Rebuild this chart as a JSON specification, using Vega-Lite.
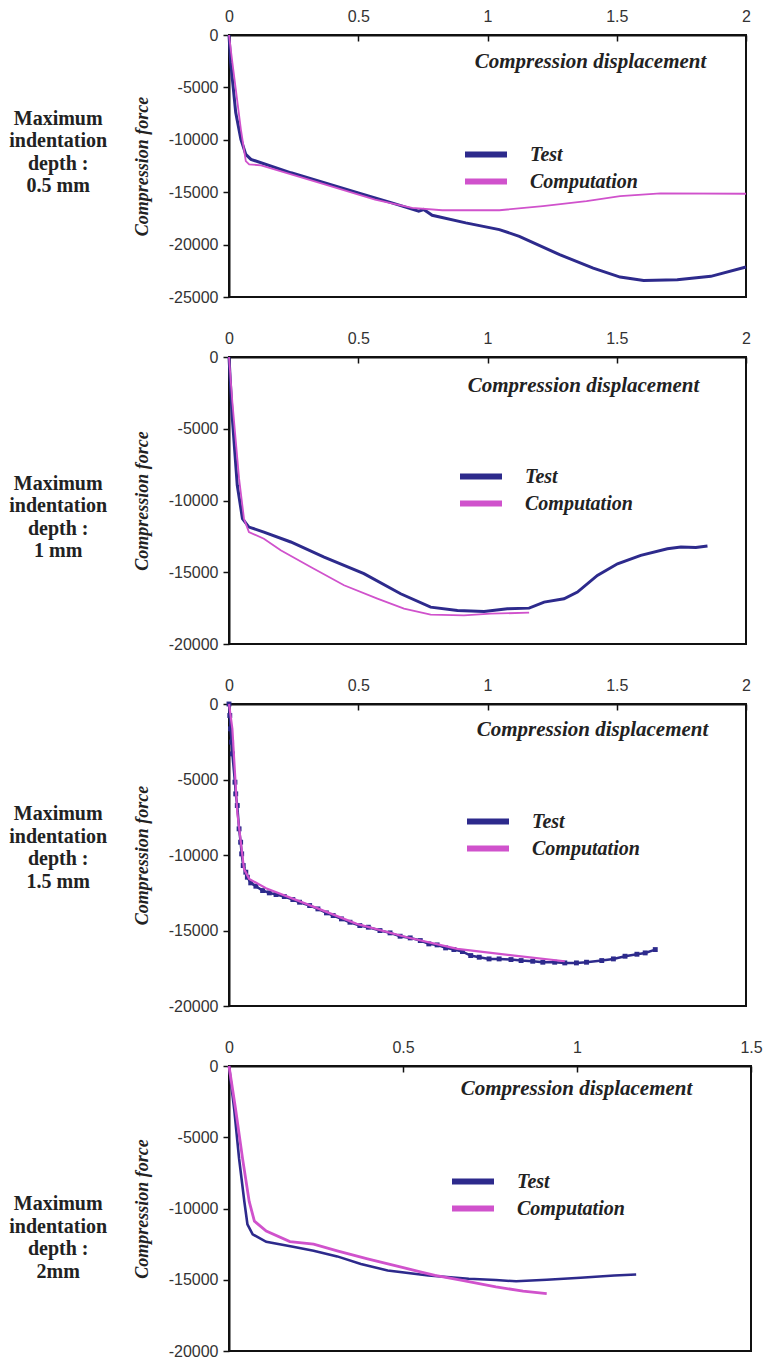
{
  "$schema": "https://vega.github.io/schema/vega-lite/v6.json",
  "background": "white",
  "padding": {"left": 8, "top": 7, "right": 0, "bottom": 0},
  "spacing": 60,
  "bounds": "flush",
  "datasets": {
    "p1": [
      {"s":"Test","x":0,"y":0},{"s":"Test","x":0.0066,"y":-2620},{"s":"Test","x":0.026,"y":-7405},{"s":"Test","x":0.046,"y":-9955},{"s":"Test","x":0.065,"y":-11390},{"s":"Test","x":0.085,"y":-11870},{"s":"Test","x":0.24,"y":-13150},{"s":"Test","x":0.5,"y":-15060},{"s":"Test","x":0.63,"y":-16020},{"s":"Test","x":0.734,"y":-16810},{"s":"Test","x":0.753,"y":-16650},{"s":"Test","x":0.786,"y":-17200},{"s":"Test","x":0.916,"y":-17930},{"s":"Test","x":1.046,"y":-18570},{"s":"Test","x":1.123,"y":-19210},{"s":"Test","x":1.279,"y":-20960},{"s":"Test","x":1.409,"y":-22240},{"s":"Test","x":1.513,"y":-23100},{"s":"Test","x":1.604,"y":-23420},{"s":"Test","x":1.734,"y":-23350},{"s":"Test","x":1.864,"y":-23030},{"s":"Test","x":2.0,"y":-22140},
      {"s":"Computation","x":0,"y":0},{"s":"Computation","x":0.013,"y":-2620},{"s":"Computation","x":0.046,"y":-9000},{"s":"Computation","x":0.065,"y":-12030},{"s":"Computation","x":0.078,"y":-12340},{"s":"Computation","x":0.124,"y":-12440},{"s":"Computation","x":0.37,"y":-14260},{"s":"Computation","x":0.565,"y":-15700},{"s":"Computation","x":0.708,"y":-16500},{"s":"Computation","x":0.825,"y":-16720},{"s":"Computation","x":1.046,"y":-16720},{"s":"Computation","x":1.214,"y":-16330},{"s":"Computation","x":1.383,"y":-15860},{"s":"Computation","x":1.513,"y":-15380},{"s":"Computation","x":1.669,"y":-15120},{"s":"Computation","x":2.0,"y":-15150}
    ],
    "p2": [
      {"s":"Test","x":0,"y":0},{"s":"Test","x":0.013,"y":-4300},{"s":"Test","x":0.032,"y":-8940},{"s":"Test","x":0.052,"y":-11270},{"s":"Test","x":0.077,"y":-11850},{"s":"Test","x":0.135,"y":-12200},{"s":"Test","x":0.239,"y":-12890},{"s":"Test","x":0.368,"y":-13940},{"s":"Test","x":0.522,"y":-15100},{"s":"Test","x":0.664,"y":-16500},{"s":"Test","x":0.78,"y":-17430},{"s":"Test","x":0.884,"y":-17660},{"s":"Test","x":0.987,"y":-17730},{"s":"Test","x":1.077,"y":-17540},{"s":"Test","x":1.161,"y":-17500},{"s":"Test","x":1.219,"y":-17080},{"s":"Test","x":1.296,"y":-16850},{"s":"Test","x":1.348,"y":-16380},{"s":"Test","x":1.425,"y":-15220},{"s":"Test","x":1.503,"y":-14410},{"s":"Test","x":1.593,"y":-13820},{"s":"Test","x":1.696,"y":-13360},{"s":"Test","x":1.748,"y":-13240},{"s":"Test","x":1.806,"y":-13280},{"s":"Test","x":1.851,"y":-13170},
      {"s":"Computation","x":0,"y":0},{"s":"Computation","x":0.013,"y":-3140},{"s":"Computation","x":0.039,"y":-8480},{"s":"Computation","x":0.058,"y":-11270},{"s":"Computation","x":0.077,"y":-12200},{"s":"Computation","x":0.135,"y":-12660},{"s":"Computation","x":0.2,"y":-13470},{"s":"Computation","x":0.316,"y":-14640},{"s":"Computation","x":0.445,"y":-15910},{"s":"Computation","x":0.574,"y":-16840},{"s":"Computation","x":0.677,"y":-17540},{"s":"Computation","x":0.78,"y":-17960},{"s":"Computation","x":0.909,"y":-18010},{"s":"Computation","x":1.013,"y":-17890},{"s":"Computation","x":1.161,"y":-17820}
    ],
    "p3": [
      {"s":"Test","x":0,"y":0},{"s":"Test","x":0.003,"y":-762},{"s":"Test","x":0.006,"y":-1645},{"s":"Test","x":0.01,"y":-2528},{"s":"Test","x":0.013,"y":-3301},{"s":"Test","x":0.023,"y":-5178},{"s":"Test","x":0.026,"y":-5951},{"s":"Test","x":0.032,"y":-6723},{"s":"Test","x":0.039,"y":-8269},{"s":"Test","x":0.045,"y":-9152},{"s":"Test","x":0.049,"y":-9925},{"s":"Test","x":0.055,"y":-10698},{"s":"Test","x":0.065,"y":-11140},{"s":"Test","x":0.071,"y":-11471},{"s":"Test","x":0.084,"y":-11846},{"s":"Test","x":0.104,"y":-12067},{"s":"Test","x":0.13,"y":-12354},{"s":"Test","x":0.156,"y":-12509},{"s":"Test","x":0.182,"y":-12619},{"s":"Test","x":0.214,"y":-12752},{"s":"Test","x":0.247,"y":-12951},{"s":"Test","x":0.273,"y":-13127},{"s":"Test","x":0.312,"y":-13348},{"s":"Test","x":0.344,"y":-13569},{"s":"Test","x":0.377,"y":-13834},{"s":"Test","x":0.403,"y":-14010},{"s":"Test","x":0.435,"y":-14231},{"s":"Test","x":0.468,"y":-14452},{"s":"Test","x":0.506,"y":-14673},{"s":"Test","x":0.539,"y":-14783},{"s":"Test","x":0.584,"y":-15004},{"s":"Test","x":0.623,"y":-15158},{"s":"Test","x":0.662,"y":-15379},{"s":"Test","x":0.701,"y":-15490},{"s":"Test","x":0.74,"y":-15666},{"s":"Test","x":0.773,"y":-15887},{"s":"Test","x":0.805,"y":-15953},{"s":"Test","x":0.838,"y":-16152},{"s":"Test","x":0.87,"y":-16262},{"s":"Test","x":0.903,"y":-16395},{"s":"Test","x":0.935,"y":-16660},{"s":"Test","x":0.968,"y":-16770},{"s":"Test","x":1.006,"y":-16881},{"s":"Test","x":1.045,"y":-16881},{"s":"Test","x":1.091,"y":-16925},{"s":"Test","x":1.13,"y":-16991},{"s":"Test","x":1.175,"y":-17035},{"s":"Test","x":1.214,"y":-17101},{"s":"Test","x":1.26,"y":-17101},{"s":"Test","x":1.299,"y":-17146},{"s":"Test","x":1.344,"y":-17146},{"s":"Test","x":1.383,"y":-17101},{"s":"Test","x":1.442,"y":-16991},{"s":"Test","x":1.487,"y":-16881},{"s":"Test","x":1.532,"y":-16704},{"s":"Test","x":1.578,"y":-16572},{"s":"Test","x":1.61,"y":-16484},{"s":"Test","x":1.649,"y":-16263},
      {"s":"Computation","x":0,"y":0},{"s":"Computation","x":0.013,"y":-1645},{"s":"Computation","x":0.032,"y":-7166},{"s":"Computation","x":0.058,"y":-10919},{"s":"Computation","x":0.078,"y":-11581},{"s":"Computation","x":0.143,"y":-12200},{"s":"Computation","x":0.299,"y":-13238},{"s":"Computation","x":0.494,"y":-14562},{"s":"Computation","x":0.688,"y":-15445},{"s":"Computation","x":0.883,"y":-16218},{"s":"Computation","x":1.104,"y":-16660},{"s":"Computation","x":1.299,"y":-17035}
    ],
    "p4": [
      {"s":"Test","x":0,"y":0},{"s":"Test","x":0.015,"y":-3040},{"s":"Test","x":0.029,"y":-6500},{"s":"Test","x":0.044,"y":-9500},{"s":"Test","x":0.053,"y":-11120},{"s":"Test","x":0.068,"y":-11810},{"s":"Test","x":0.107,"y":-12340},{"s":"Test","x":0.184,"y":-12690},{"s":"Test","x":0.243,"y":-12960},{"s":"Test","x":0.311,"y":-13360},{"s":"Test","x":0.379,"y":-13890},{"s":"Test","x":0.456,"y":-14350},{"s":"Test","x":0.573,"y":-14700},{"s":"Test","x":0.689,"y":-14930},{"s":"Test","x":0.767,"y":-15020},{"s":"Test","x":0.825,"y":-15110},{"s":"Test","x":0.913,"y":-15000},{"s":"Test","x":1.01,"y":-14860},{"s":"Test","x":1.107,"y":-14700},{"s":"Test","x":1.17,"y":-14630},
      {"s":"Computation","x":0,"y":0},{"s":"Computation","x":0.019,"y":-3040},{"s":"Computation","x":0.039,"y":-6500},{"s":"Computation","x":0.058,"y":-9500},{"s":"Computation","x":0.073,"y":-10890},{"s":"Computation","x":0.107,"y":-11580},{"s":"Computation","x":0.175,"y":-12320},{"s":"Computation","x":0.243,"y":-12500},{"s":"Computation","x":0.311,"y":-12970},{"s":"Computation","x":0.398,"y":-13540},{"s":"Computation","x":0.495,"y":-14120},{"s":"Computation","x":0.592,"y":-14700},{"s":"Computation","x":0.67,"y":-15040},{"s":"Computation","x":0.767,"y":-15500},{"s":"Computation","x":0.845,"y":-15800},{"s":"Computation","x":0.913,"y":-15970}
    ]
  },
  "resolve": {"scale": {"color": "independent"}, "legend": {"color": "independent"}},
  "vconcat": [
    {
      "width": 517, "height": 262,
      "title": {"text": ["Maximum", "indentation", "depth :", "0.5 mm"], "orient": "left", "angle": 0, "align": "center", "baseline": "middle", "offset": -23, "dy": -47.3},
      "data": {"name": "p1"},
      "encoding": {
        "x": {"field": "x", "type": "quantitative", "scale": {"domain": [0, 2], "nice": false}, "axis": {"orient": "top", "values": [0, 0.5, 1, 1.5, 2], "title": "Compression displacement", "titleX": 361, "titleY": 26}},
        "y": {"field": "y", "type": "quantitative", "scale": {"domain": [-25000, 0], "nice": false}, "axis": {"values": [-25000, -20000, -15000, -10000, -5000, 0], "title": "Compression force", "titleX": -87}},
        "color": {"field": "s", "type": "nominal", "scale": {"domain": ["Test", "Computation"], "range": ["#2d2a8c", "#d052cc"]}, "legend": {"orient": "none", "legendX": 233, "legendY": 106}}
      },
      "layer": [
        {"transform": [{"filter": "datum.s === 'Test'"}], "mark": {"type": "line", "strokeWidth": 3}},
        {"transform": [{"filter": "datum.s === 'Computation'"}], "mark": {"type": "line", "strokeWidth": 1.8}}
      ]
    },
    {
      "width": 517, "height": 287,
      "title": {"text": ["Maximum", "indentation", "depth :", "1 mm"], "orient": "left", "angle": 0, "align": "center", "baseline": "middle", "offset": -23, "dy": -16.8},
      "data": {"name": "p2"},
      "encoding": {
        "x": {"field": "x", "type": "quantitative", "scale": {"domain": [0, 2], "nice": false}, "axis": {"orient": "top", "values": [0, 0.5, 1, 1.5, 2], "title": "Compression displacement", "titleX": 354, "titleY": 28}},
        "y": {"field": "y", "type": "quantitative", "scale": {"domain": [-20000, 0], "nice": false}, "axis": {"values": [-20000, -15000, -10000, -5000, 0], "title": "Compression force", "titleX": -87}},
        "color": {"field": "s", "type": "nominal", "scale": {"domain": ["Test", "Computation"], "range": ["#2d2a8c", "#d052cc"]}, "legend": {"orient": "none", "legendX": 228, "legendY": 106}}
      },
      "layer": [
        {"transform": [{"filter": "datum.s === 'Test'"}], "mark": {"type": "line", "strokeWidth": 3}},
        {"transform": [{"filter": "datum.s === 'Computation'"}], "mark": {"type": "line", "strokeWidth": 1.8}}
      ]
    },
    {
      "width": 517, "height": 302,
      "title": {"text": ["Maximum", "indentation", "depth :", "1.5 mm"], "orient": "left", "angle": 0, "align": "center", "baseline": "middle", "offset": -23, "dy": -41},
      "data": {"name": "p3"},
      "encoding": {
        "x": {"field": "x", "type": "quantitative", "scale": {"domain": [0, 2], "nice": false}, "axis": {"orient": "top", "values": [0, 0.5, 1, 1.5, 2], "title": "Compression displacement", "titleX": 363, "titleY": 25}},
        "y": {"field": "y", "type": "quantitative", "scale": {"domain": [-20000, 0], "nice": false}, "axis": {"values": [-20000, -15000, -10000, -5000, 0], "title": "Compression force", "titleX": -87}},
        "color": {"field": "s", "type": "nominal", "scale": {"domain": ["Test", "Computation"], "range": ["#2d2a8c", "#d052cc"]}, "legend": {"orient": "none", "legendX": 235, "legendY": 104}}
      },
      "layer": [
        {"transform": [{"filter": "datum.s === 'Test'"}], "mark": {"type": "line", "strokeWidth": 2.5, "point": {"filled": true, "size": 24, "shape": "square"}}},
        {"transform": [{"filter": "datum.s === 'Computation'"}], "mark": {"type": "line", "strokeWidth": 2.2}}
      ]
    },
    {
      "width": 522, "height": 285,
      "title": {"text": ["Maximum", "indentation", "depth :", "2mm"], "orient": "left", "angle": 0, "align": "center", "baseline": "middle", "offset": -23, "dy": -4.5},
      "data": {"name": "p4"},
      "encoding": {
        "x": {"field": "x", "type": "quantitative", "scale": {"domain": [0, 1.5], "nice": false}, "axis": {"orient": "top", "values": [0, 0.5, 1, 1.5], "title": "Compression displacement", "titleX": 347, "titleY": 22}},
        "y": {"field": "y", "type": "quantitative", "scale": {"domain": [-20000, 0], "nice": false}, "axis": {"values": [-20000, -15000, -10000, -5000, 0], "title": "Compression force", "titleX": -87}},
        "color": {"field": "s", "type": "nominal", "scale": {"domain": ["Test", "Computation"], "range": ["#2d2a8c", "#d052cc"]}, "legend": {"orient": "none", "legendX": 220, "legendY": 102}}
      },
      "layer": [
        {"transform": [{"filter": "datum.s === 'Test'"}], "mark": {"type": "line", "strokeWidth": 2.6}},
        {"transform": [{"filter": "datum.s === 'Computation'"}], "mark": {"type": "line", "strokeWidth": 2.8}}
      ]
    }
  ],
  "config": {
    "view": {"stroke": "#111", "strokeWidth": 2},
    "title": {"font": "Liberation Serif", "fontSize": 20, "fontWeight": "bold", "lineHeight": 22.5, "color": "#222"},
    "axis": {"grid": false, "domainColor": "#111", "domainWidth": 2, "tickColor": "#111", "tickWidth": 1.5, "labelFont": "Liberation Sans", "labelFontSize": 16, "labelColor": "#333", "labelFlush": false, "labelOverlap": false, "labelExpr": "toString(datum.value)", "titleFont": "Liberation Serif", "titleFontStyle": "italic", "titleFontWeight": "bold", "titleColor": "#222", "titleAlign": "center", "titleBaseline": "middle"},
    "axisX": {"tickSize": -6, "labelPadding": 17, "titleFontSize": 21},
    "axisY": {"tickSize": 6, "labelPadding": 5, "titleFontSize": 18},
    "legend": {"title": null, "symbolType": "stroke", "symbolStrokeWidth": 6, "symbolSize": 1764, "labelFont": "Liberation Serif", "labelFontSize": 20, "labelFontStyle": "italic", "labelFontWeight": "bold", "labelColor": "#222", "labelOffset": 20, "clipHeight": 27, "rowPadding": 0, "padding": 0}
  }
}
